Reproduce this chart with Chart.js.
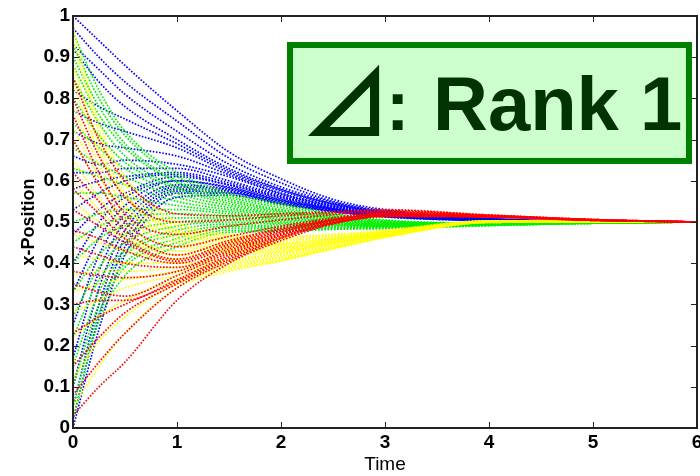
<!DOCTYPE html>
<html>
<head>
<meta charset="utf-8">
<script src="https://cdn.jsdelivr.net/npm/chart.js@4"></script>
<style>
html,body{margin:0;padding:0;background:#fff;}
canvas{display:block;}
</style>
</head>
<body>
<canvas id="c" width="700" height="476"></canvas>
<script>
// Sample times (x-axis)
const times = [0, 0.25, 0.5, 1, 1.5, 2, 2.5, 3, 4, 5, 6];
const xTicks = [0, 1, 2, 3, 4, 5, 6];
const yTicks = [0, 0.1, 0.2, 0.3, 0.4, 0.5, 0.6, 0.7, 0.8, 0.9, 1];
const xTitle = 'Time';
const yTitle = 'x-Position';
const boxSymbol = '⊿';
const boxColon = ':';
const boxText = 'Rank 1';

// x-position of each run at the sample times
const blueRuns = [
  [1.00, 0.94, 0.88, 0.77, 0.67, 0.605, 0.555, 0.530, 0.509, 0.501, 0.500],
  [0.97, 0.90, 0.84, 0.745, 0.655, 0.595, 0.550, 0.527, 0.508, 0.501, 0.500],
  [0.93, 0.87, 0.81, 0.72, 0.64, 0.585, 0.548, 0.525, 0.508, 0.501, 0.500],
  [0.92, 0.84, 0.78, 0.70, 0.63, 0.580, 0.545, 0.524, 0.507, 0.501, 0.500],
  [0.82, 0.78, 0.75, 0.69, 0.625, 0.578, 0.544, 0.523, 0.507, 0.500, 0.500],
  [0.77, 0.74, 0.72, 0.68, 0.62, 0.575, 0.542, 0.522, 0.507, 0.500, 0.500],
  [0.72, 0.69, 0.68, 0.66, 0.615, 0.570, 0.540, 0.521, 0.506, 0.500, 0.500],
  [0.66, 0.64, 0.65, 0.64, 0.61, 0.568, 0.538, 0.520, 0.506, 0.500, 0.500],
  [0.62, 0.62, 0.63, 0.63, 0.60, 0.565, 0.537, 0.519, 0.506, 0.500, 0.500],
  [0.58, 0.60, 0.61, 0.62, 0.595, 0.562, 0.535, 0.518, 0.505, 0.500, 0.500],
  [0.53, 0.57, 0.60, 0.615, 0.59, 0.560, 0.534, 0.518, 0.505, 0.499, 0.500],
  [0.47, 0.53, 0.57, 0.61, 0.59, 0.558, 0.533, 0.517, 0.505, 0.499, 0.500],
  [0.40, 0.50, 0.56, 0.60, 0.585, 0.555, 0.532, 0.516, 0.505, 0.499, 0.500],
  [0.33, 0.46, 0.54, 0.60, 0.583, 0.553, 0.531, 0.516, 0.504, 0.499, 0.500],
  [0.25, 0.42, 0.52, 0.59, 0.58, 0.551, 0.530, 0.515, 0.504, 0.499, 0.500],
  [0.17, 0.38, 0.50, 0.585, 0.578, 0.550, 0.529, 0.515, 0.504, 0.499, 0.500],
  [0.10, 0.34, 0.48, 0.58, 0.575, 0.548, 0.528, 0.514, 0.504, 0.499, 0.500],
  [0.05, 0.30, 0.46, 0.575, 0.572, 0.546, 0.527, 0.514, 0.503, 0.499, 0.500],
  [0.02, 0.27, 0.44, 0.57, 0.57, 0.545, 0.526, 0.513, 0.503, 0.499, 0.500],
  [0.00, 0.24, 0.42, 0.56, 0.565, 0.543, 0.525, 0.512, 0.503, 0.499, 0.500]
];
const greenRuns = [
  [0.96, 0.82, 0.72, 0.62, 0.57, 0.545, 0.520, 0.505, 0.498, 0.499, 0.500],
  [0.93, 0.80, 0.71, 0.61, 0.565, 0.540, 0.518, 0.503, 0.497, 0.499, 0.500],
  [0.90, 0.78, 0.69, 0.60, 0.56, 0.535, 0.515, 0.502, 0.497, 0.499, 0.500],
  [0.88, 0.76, 0.68, 0.595, 0.555, 0.530, 0.513, 0.500, 0.496, 0.499, 0.500],
  [0.85, 0.74, 0.66, 0.585, 0.55, 0.527, 0.511, 0.499, 0.496, 0.498, 0.500],
  [0.80, 0.71, 0.645, 0.58, 0.545, 0.524, 0.510, 0.498, 0.496, 0.498, 0.500],
  [0.74, 0.68, 0.63, 0.57, 0.54, 0.520, 0.508, 0.497, 0.495, 0.498, 0.500],
  [0.68, 0.64, 0.61, 0.56, 0.535, 0.517, 0.506, 0.496, 0.495, 0.498, 0.500],
  [0.63, 0.61, 0.59, 0.55, 0.53, 0.514, 0.504, 0.495, 0.495, 0.498, 0.500],
  [0.57, 0.57, 0.56, 0.54, 0.525, 0.510, 0.502, 0.494, 0.494, 0.498, 0.500],
  [0.50, 0.52, 0.53, 0.53, 0.52, 0.507, 0.500, 0.493, 0.494, 0.498, 0.500],
  [0.45, 0.49, 0.51, 0.52, 0.515, 0.504, 0.498, 0.492, 0.494, 0.498, 0.500],
  [0.40, 0.46, 0.49, 0.51, 0.51, 0.500, 0.496, 0.491, 0.493, 0.498, 0.500],
  [0.33, 0.42, 0.47, 0.50, 0.505, 0.497, 0.494, 0.490, 0.493, 0.497, 0.500],
  [0.27, 0.39, 0.45, 0.49, 0.50, 0.494, 0.492, 0.489, 0.493, 0.497, 0.500],
  [0.22, 0.36, 0.43, 0.48, 0.495, 0.490, 0.490, 0.488, 0.492, 0.497, 0.500],
  [0.15, 0.33, 0.42, 0.47, 0.49, 0.487, 0.488, 0.487, 0.492, 0.497, 0.500],
  [0.10, 0.30, 0.40, 0.46, 0.485, 0.484, 0.486, 0.486, 0.492, 0.497, 0.500],
  [0.05, 0.28, 0.39, 0.45, 0.48, 0.480, 0.484, 0.485, 0.492, 0.497, 0.500],
  [0.02, 0.26, 0.37, 0.44, 0.475, 0.477, 0.482, 0.484, 0.491, 0.497, 0.500]
];
const redRuns = [
  [0.85, 0.70, 0.60, 0.52, 0.515, 0.520, 0.525, 0.530, 0.517, 0.506, 0.500],
  [0.80, 0.66, 0.56, 0.50, 0.505, 0.515, 0.522, 0.528, 0.517, 0.506, 0.500],
  [0.76, 0.62, 0.52, 0.47, 0.49, 0.505, 0.518, 0.526, 0.516, 0.506, 0.500],
  [0.70, 0.59, 0.50, 0.44, 0.465, 0.490, 0.510, 0.524, 0.516, 0.506, 0.500],
  [0.62, 0.55, 0.48, 0.42, 0.455, 0.485, 0.507, 0.522, 0.515, 0.505, 0.500],
  [0.58, 0.52, 0.46, 0.41, 0.45, 0.483, 0.506, 0.521, 0.515, 0.505, 0.500],
  [0.53, 0.49, 0.45, 0.405, 0.445, 0.480, 0.505, 0.520, 0.515, 0.505, 0.500],
  [0.48, 0.46, 0.43, 0.40, 0.44, 0.478, 0.504, 0.519, 0.514, 0.505, 0.500],
  [0.44, 0.42, 0.40, 0.39, 0.435, 0.475, 0.503, 0.518, 0.514, 0.505, 0.500],
  [0.38, 0.37, 0.365, 0.38, 0.43, 0.472, 0.502, 0.517, 0.514, 0.505, 0.500],
  [0.35, 0.33, 0.32, 0.37, 0.425, 0.470, 0.500, 0.516, 0.513, 0.505, 0.500],
  [0.30, 0.31, 0.31, 0.36, 0.42, 0.468, 0.499, 0.515, 0.513, 0.504, 0.500],
  [0.23, 0.27, 0.30, 0.355, 0.415, 0.465, 0.498, 0.515, 0.513, 0.504, 0.500],
  [0.15, 0.22, 0.28, 0.35, 0.41, 0.462, 0.497, 0.514, 0.512, 0.504, 0.500],
  [0.08, 0.16, 0.23, 0.34, 0.405, 0.460, 0.496, 0.514, 0.512, 0.504, 0.500],
  [0.03, 0.10, 0.16, 0.31, 0.40, 0.455, 0.495, 0.513, 0.512, 0.504, 0.500]
];
const yellowRuns = [
  [0.97, 0.74, 0.61, 0.50, 0.47, 0.465, 0.470, 0.480, 0.503, 0.501, 0.500],
  [0.94, 0.72, 0.59, 0.49, 0.465, 0.460, 0.468, 0.478, 0.503, 0.501, 0.500],
  [0.88, 0.69, 0.57, 0.48, 0.46, 0.455, 0.465, 0.477, 0.502, 0.501, 0.500],
  [0.84, 0.67, 0.56, 0.475, 0.455, 0.450, 0.462, 0.476, 0.502, 0.501, 0.500],
  [0.78, 0.64, 0.54, 0.47, 0.45, 0.447, 0.460, 0.475, 0.502, 0.501, 0.500],
  [0.73, 0.61, 0.53, 0.46, 0.445, 0.444, 0.458, 0.474, 0.502, 0.501, 0.500],
  [0.70, 0.59, 0.51, 0.45, 0.44, 0.440, 0.456, 0.473, 0.501, 0.501, 0.500],
  [0.65, 0.56, 0.49, 0.44, 0.435, 0.437, 0.454, 0.472, 0.501, 0.501, 0.500],
  [0.60, 0.53, 0.47, 0.43, 0.43, 0.434, 0.452, 0.471, 0.501, 0.501, 0.500],
  [0.55, 0.50, 0.46, 0.42, 0.425, 0.430, 0.450, 0.470, 0.501, 0.501, 0.500],
  [0.47, 0.45, 0.43, 0.41, 0.42, 0.427, 0.448, 0.469, 0.500, 0.501, 0.500],
  [0.42, 0.41, 0.40, 0.40, 0.41, 0.424, 0.446, 0.468, 0.500, 0.501, 0.500],
  [0.37, 0.38, 0.38, 0.39, 0.405, 0.420, 0.444, 0.467, 0.500, 0.501, 0.500],
  [0.33, 0.35, 0.36, 0.38, 0.40, 0.416, 0.442, 0.466, 0.500, 0.501, 0.500],
  [0.28, 0.31, 0.34, 0.37, 0.395, 0.413, 0.440, 0.465, 0.499, 0.500, 0.500],
  [0.22, 0.27, 0.31, 0.36, 0.39, 0.410, 0.438, 0.464, 0.499, 0.500, 0.500],
  [0.12, 0.21, 0.27, 0.35, 0.385, 0.407, 0.436, 0.463, 0.499, 0.500, 0.500],
  [0.05, 0.15, 0.23, 0.34, 0.38, 0.405, 0.434, 0.462, 0.499, 0.500, 0.500]
];

const groups = [
  {runs: redRuns, color: '#ff0000'},
  {runs: yellowRuns, color: '#ffff00'},
  {runs: greenRuns, color: '#00ee00'},
  {runs: blueRuns, color: '#0000ff'}
];

const datasets = [];
groups.forEach(g => {
  g.runs.forEach(run => {
    datasets.push({
      data: run.map((v, i) => ({x: times[i], y: v})),
      borderColor: g.color,
      borderWidth: 1.7,
      borderDash: [1.6, 1.6],
      pointRadius: 0,
      fill: false,
      cubicInterpolationMode: 'monotone'
    });
  });
});

const frame = {
  id: 'frame',
  afterDatasetsDraw(chart) {
    const {ctx, chartArea: a, scales: {x, y}} = chart;
    ctx.save();
    ctx.strokeStyle = '#222';
    ctx.lineWidth = 1;
    ctx.beginPath();
    xTicks.forEach(t => {
      const px = Math.round(x.getPixelForValue(t)) + 0.5;
      ctx.moveTo(px, a.bottom); ctx.lineTo(px, a.bottom - 6);
      ctx.moveTo(px, a.top); ctx.lineTo(px, a.top + 6);
    });
    yTicks.forEach(t => {
      const py = Math.round(y.getPixelForValue(t)) + 0.5;
      ctx.moveTo(a.left, py); ctx.lineTo(a.left + 6, py);
      ctx.moveTo(a.right, py); ctx.lineTo(a.right - 6, py);
    });
    ctx.stroke();
    ctx.lineWidth = 2;
    ctx.strokeRect(a.left, a.top, a.right - a.left, a.bottom - a.top);

    // annotation box
    ctx.fillStyle = '#ccffcc';
    ctx.fillRect(290, 45, 399, 116);
    ctx.strokeStyle = '#008000';
    ctx.lineWidth = 6;
    ctx.strokeRect(290, 45, 399, 116);
    ctx.fillStyle = '#003300';
    ctx.textBaseline = 'alphabetic';
    ctx.textAlign = 'left';
    ctx.font = 'bold 90px "Noto Sans CJK JP"';
    ctx.fillText(boxSymbol, 301, 137);
    ctx.font = 'bold 70px "Liberation Sans", Arial, sans-serif';
    ctx.fillText(boxColon, 386, 130);
    ctx.font = 'bold 76px "Liberation Sans", Arial, sans-serif';
    ctx.fillText(boxText, 433, 130);
    ctx.restore();
  }
};

new Chart(document.getElementById('c'), {
  type: 'line',
  data: {datasets},
  plugins: [frame],
  options: {
    responsive: false,
    devicePixelRatio: 1,
    animation: false,
    layout: {padding: {top: 16, right: 3, left: 0, bottom: 0}},
    plugins: {legend: {display: false}, tooltip: {enabled: false}},
    scales: {
      x: {
        type: 'linear', min: 0, max: 6,
        grid: {display: false, drawTicks: false},
        border: {display: false},
        afterBuildTicks: s => { s.ticks = xTicks.map(v => ({value: v})); },
        afterFit: s => { s.height = 48; s.paddingLeft = 0; s.paddingRight = 0; },
        ticks: {
          padding: 3, maxRotation: 0, autoSkip: false,
          color: '#000',
          font: {family: '"Liberation Sans", Arial, sans-serif', weight: 'bold', size: 19},
          callback: v => String(v)
        },
        title: {
          display: true, text: xTitle, color: '#000',
          font: {family: '"Liberation Sans", Arial, sans-serif', size: 19},
          padding: {top: 0, bottom: 0}
        }
      },
      y: {
        type: 'linear', min: 0, max: 1,
        grid: {display: false, drawTicks: false},
        border: {display: false},
        afterBuildTicks: s => { s.ticks = yTicks.map(v => ({value: v})); },
        afterFit: s => { s.width = 73; s.paddingTop = 0; s.paddingBottom = 0; },
        ticks: {
          padding: 3, autoSkip: false,
          color: '#000',
          font: {family: '"Liberation Sans", Arial, sans-serif', weight: 'bold', size: 19},
          callback: v => String(Math.round(v * 10) / 10)
        },
        title: {
          display: true, text: yTitle, color: '#000',
          font: {family: '"Liberation Sans", Arial, sans-serif', weight: 'bold', size: 18},
          padding: {top: 18, bottom: 0}
        }
      }
    }
  }
});
</script>
</body>
</html>
